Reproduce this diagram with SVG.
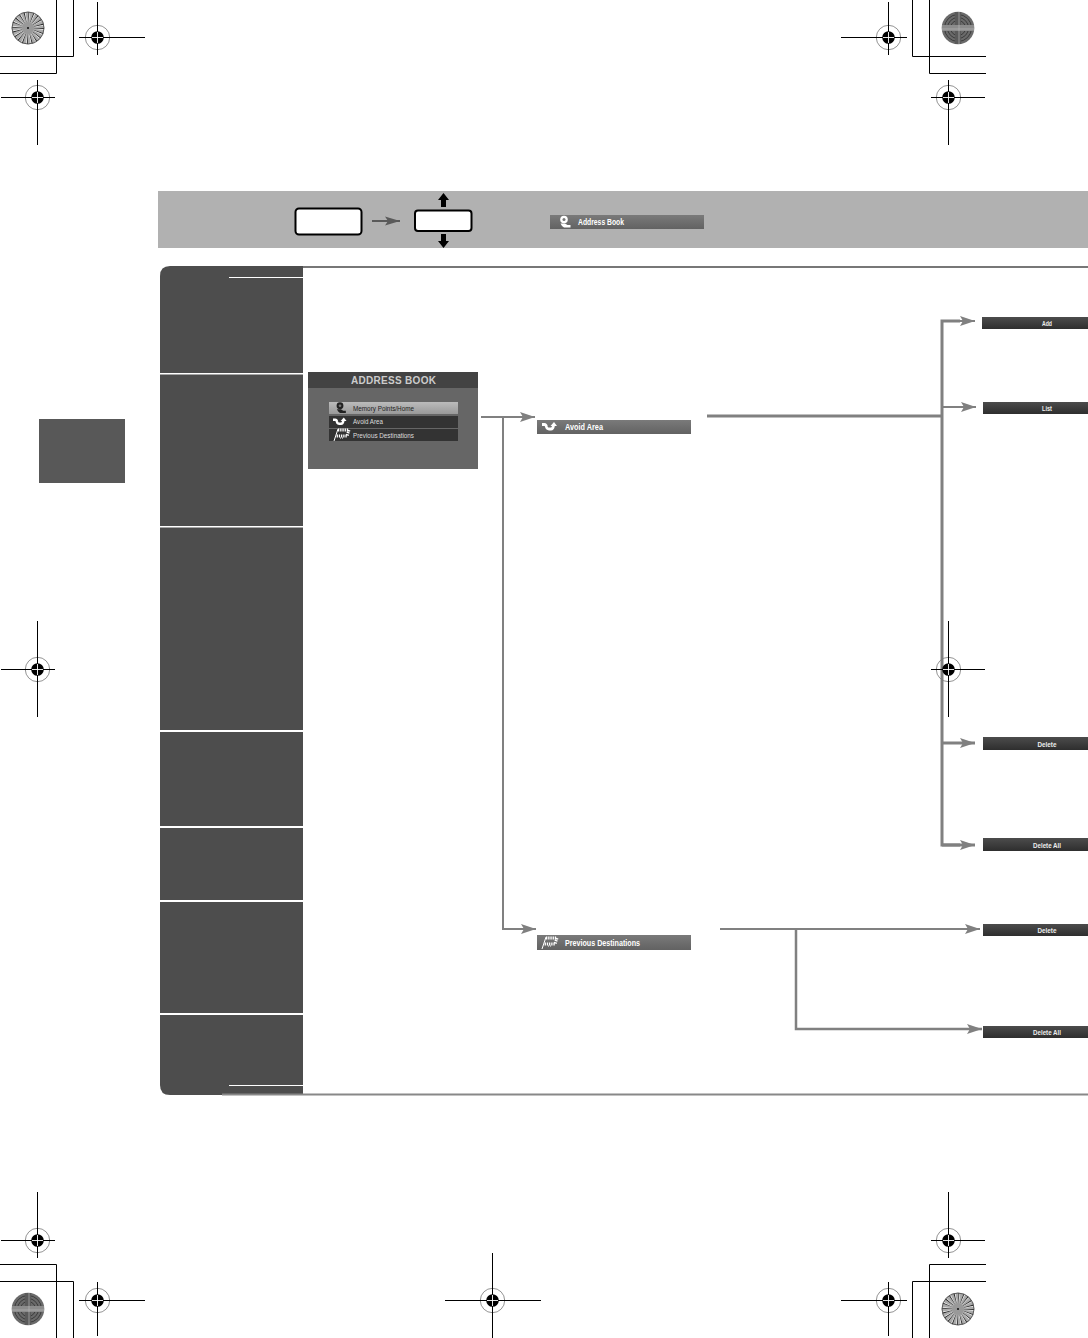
<svg xmlns="http://www.w3.org/2000/svg" width="1088" height="1338" viewBox="0 0 1088 1338">
<style>
text{font-family:"Liberation Sans",Arial,sans-serif}
.k{stroke:#000;stroke-width:1;fill:none}
.c{stroke:#808080;fill:none}
.bar{fill:url(#barDark)}
.gbar{fill:url(#barGrey)}
.bt{fill:#eee;font-size:7.5px;font-weight:bold;text-anchor:middle}
.gt{fill:#fff;font-size:8.5px;font-weight:bold}
.st{font-size:7px}
.div{fill:#fff}
</style>
<defs>
<linearGradient id="barDark" x1="0" y1="0" x2="0" y2="1"><stop offset="0" stop-color="#4c4c4c"/><stop offset="1" stop-color="#2e2e2e"/></linearGradient>
<linearGradient id="barGrey" x1="0" y1="0" x2="0" y2="1"><stop offset="0" stop-color="#7a7a7a"/><stop offset="1" stop-color="#626262"/></linearGradient>
<linearGradient id="barLight" x1="0" y1="0" x2="0" y2="1"><stop offset="0" stop-color="#bbb"/><stop offset="1" stop-color="#999"/></linearGradient>
<marker id="ah" markerUnits="userSpaceOnUse" markerWidth="18" markerHeight="14" refX="15" refY="7" orient="auto"><path d="M0 2L15 7L0 12L3 7Z" fill="#808080"/></marker>
<marker id="ahd" markerUnits="userSpaceOnUse" markerWidth="18" markerHeight="14" refX="15" refY="7" orient="auto"><path d="M0 2.500L15 7L0 11.500L3 7Z" fill="#5a5a5a"/></marker>
<g id="reg">
<circle r="12.200" fill="none" stroke="#777" stroke-width="0.800"/>
<circle r="6.300" fill="#000"/>
<path d="M-6.500 0H6.500M0 -6.500V6.500" stroke="#fff" stroke-width="0.800"/>
</g>
<g id="burst">
<circle r="16.300" fill="#aaa"/>
<circle r="11" fill="none" stroke="#fff" stroke-width="10" stroke-dasharray="1.300 2.150"/>
<circle r="11" fill="none" stroke="#2c2c2c" stroke-width="10" stroke-dasharray="0.800 2.650"/>
<circle r="16" fill="none" stroke="#444" stroke-width="0.800"/>
<circle r="6" fill="#999"/>
<circle r="1" fill="#111"/>
</g>
<g id="cross">
<circle r="16.300" fill="#6a6a6a"/>
<circle r="13.500" fill="none" stroke="#3c3c3c" stroke-width="1"/>
<circle r="10.500" fill="none" stroke="#3c3c3c" stroke-width="1"/>
<circle r="7.500" fill="none" stroke="#3c3c3c" stroke-width="1"/>
<path d="M0 -16V16" stroke="#5a5a5a" stroke-width="6"/>
<path d="M-16 0H16" stroke="#8c8c8c" stroke-width="6"/>
<path d="M-16 1H16M1 -16V16" stroke="#b5b5b5" stroke-width="0.700"/>
</g>
<g id="pin"><circle cx="0" cy="-2.500" r="3.800"/><circle cx="0" cy="-2.500" r="1.500" fill="#777"/><path d="M-3.500 1.500H1L3.500 3H6.500V5.500H0L-2 4Z"/></g>
<g id="uturn"><path d="M0 -2.500H2.500Q4 -2.500 4.500 0Q5 2 7 2H9Q11 2 11.500 -1.500" fill="none" stroke="#fff" stroke-width="2.800"/><path d="M8.500 -1L12 -5L15 -1Z" fill="#fff"/></g>
<g id="flag" fill="none" stroke="#fff"><path d="M4 -5H15L13 1H2" stroke-width="3" stroke-dasharray="1.300 0.900"/><path d="M4 -6L0 6" stroke-width="1"/><path d="M6 3H10" stroke-width="1.200" stroke-dasharray="1 1"/></g>
</defs>

<rect width="1088" height="1338" fill="#fff"/>

<g id="band"><rect x="158" y="191" width="930" height="57" fill="#b1b1b1"/></g>

<g id="sidetab"><rect x="39" y="419" width="86" height="64" fill="#585858"/></g>

<g id="panel">
<path d="M303 266H170Q160 266 160 276V1085Q160 1095 170 1095H303Z" fill="#4d4d4d"/>
<path d="M303 267H1088" stroke="#777" stroke-width="2"/>
<path d="M222 1094.500H1088" stroke="#888" stroke-width="2"/>
<rect class="div" x="229" y="277" width="74" height="1"/>
<rect class="div" x="160" y="373" width="143" height="1.500"/>
<rect class="div" x="160" y="526" width="143" height="1.500"/>
<rect class="div" x="160" y="730" width="143" height="2"/>
<rect class="div" x="160" y="826" width="143" height="2"/>
<rect class="div" x="160" y="900" width="143" height="2"/>
<rect class="div" x="160" y="1013" width="143" height="2"/>
<rect class="div" x="229" y="1085" width="74" height="1"/>
</g>

<g id="connectors" class="c">
<path d="M372 221H400" stroke="#5a5a5a" stroke-width="2" marker-end="url(#ahd)"/>
<path d="M481 417H535" stroke-width="2" marker-end="url(#ah)"/>
<path d="M503 417V929H536" stroke-width="2" marker-end="url(#ah)"/>
<path d="M707 416H942" stroke-width="3"/>
<path d="M960 321H942V845H960" stroke-width="3"/>
<path d="M942 321H975" stroke-width="2" marker-end="url(#ah)"/>
<path d="M942 407H976" stroke-width="2" marker-end="url(#ah)"/>
<path d="M942 743H975" stroke-width="3" marker-end="url(#ah)"/>
<path d="M942 845H975" stroke-width="3" marker-end="url(#ah)"/>
<path d="M720 929H980" stroke-width="2" marker-end="url(#ah)"/>
<path d="M796 929V1029H982" stroke-width="2.500" marker-end="url(#ah)"/>
</g>

<g id="key-menu"><rect x="295.500" y="208.500" width="66" height="26" rx="3.500" fill="#fff" stroke="#000" stroke-width="2"/></g>
<g id="key-joystick">
<rect x="415" y="210.500" width="56.500" height="20.500" rx="3" fill="#fff" stroke="#000" stroke-width="2"/>
<path d="M443.500 193L449 200H446V207H441V200H438Z" fill="#000"/>
<path d="M443.500 248L449 241H446V234H441V241H438Z" fill="#000"/>
</g>
<g id="bar-address">
<rect class="gbar" x="550" y="215" width="154" height="14"/>
<use href="#pin" x="564" y="222" fill="#fff"/>
<text class="gt" x="578" y="225" textLength="46" lengthAdjust="spacingAndGlyphs">Address Book</text>
</g>

<g id="screen">
<rect x="308" y="372" width="170" height="97" fill="#666"/>
<rect x="308" y="372" width="170" height="16" fill="#434343"/>
<text x="351" y="384" font-size="10" font-weight="bold" fill="#ccc" textLength="85" lengthAdjust="spacing">ADDRESS BOOK</text>
<rect x="329" y="402" width="129" height="12" fill="url(#barLight)"/>
<rect x="329" y="416" width="129" height="12" fill="#333"/>
<rect x="329" y="429" width="129" height="12" fill="#333"/>
<use href="#pin" transform="translate(340,408) scale(.9)" fill="#222"/>
<use href="#uturn" transform="translate(333,422) scale(.9)"/>
<use href="#flag" x="334" y="435"/>
<text class="st" x="353" y="411" fill="#222" textLength="61" lengthAdjust="spacingAndGlyphs">Memory Points/Home</text>
<text class="st" x="353" y="424" fill="#ddd" textLength="30" lengthAdjust="spacingAndGlyphs">Avoid Area</text>
<text class="st" x="353" y="437.500" fill="#ddd" textLength="61" lengthAdjust="spacingAndGlyphs">Previous Destinations</text>
</g>

<g id="bar-avoid">
<rect class="gbar" x="537" y="420" width="154" height="14"/>
<use href="#uturn" x="542" y="427"/>
<text class="gt" x="565" y="430" textLength="38" lengthAdjust="spacingAndGlyphs">Avoid Area</text>
</g>
<g id="bar-previous">
<rect class="gbar" x="537" y="935" width="154" height="15"/>
<use href="#flag" x="542" y="943"/>
<text class="gt" x="565" y="946" textLength="75" lengthAdjust="spacingAndGlyphs">Previous Destinations</text>
</g>

<g id="bar-add"><rect class="bar" x="982" y="317" width="106" height="12"/><text class="bt" x="1047" y="326" textLength="10" lengthAdjust="spacingAndGlyphs">Add</text></g>
<g id="bar-list"><rect class="bar" x="983" y="402" width="105" height="12"/><text class="bt" x="1047" y="411" textLength="10" lengthAdjust="spacingAndGlyphs">List</text></g>
<g id="bar-delete-1"><rect class="bar" x="983" y="737" width="105" height="13"/><text class="bt" x="1047" y="747" textLength="19" lengthAdjust="spacingAndGlyphs">Delete</text></g>
<g id="bar-delete-all-1"><rect class="bar" x="983" y="838" width="105" height="13"/><text class="bt" x="1047" y="847.500" textLength="28" lengthAdjust="spacingAndGlyphs">Delete All</text></g>
<g id="bar-delete-2"><rect class="bar" x="983" y="924" width="105" height="12"/><text class="bt" x="1047" y="933" textLength="19" lengthAdjust="spacingAndGlyphs">Delete</text></g>
<g id="bar-delete-all-2"><rect class="bar" x="983" y="1026" width="105" height="12"/><text class="bt" x="1047" y="1035" textLength="28" lengthAdjust="spacingAndGlyphs">Delete All</text></g>

<g id="print-marks">
<path class="k" d="M73.500 0V56.500H0M56.500 0V73.500H0"/>
<path class="k" d="M912.500 0V56.500H986M929.500 0V73.500H986"/>
<path class="k" d="M0 1264.500H56.500V1338M0 1281.500H73.500V1338"/>
<path class="k" d="M986 1264.500H929.500V1338M986 1281.500H912.500V1338"/>
<use href="#burst" x="28" y="28"/>
<use href="#cross" x="958" y="28"/>
<use href="#cross" x="28" y="1309"/>
<use href="#burst" x="958" y="1309"/>
<use href="#reg" x="97.500" y="37.500"/><path class="k" d="M79 37.500H145M97.500 2V55"/>
<use href="#reg" x="37.500" y="97.500"/><path class="k" d="M1 97.500H55M37.500 80V145"/>
<use href="#reg" x="888.500" y="37.500"/><path class="k" d="M841 37.500H907M888.500 2V55"/>
<use href="#reg" x="948.500" y="97.500"/><path class="k" d="M931 97.500H985M948.500 80V145"/>
<use href="#reg" x="37.500" y="669.500"/><path class="k" d="M1 669.500H55M37.500 621V717"/>
<use href="#reg" x="948.500" y="669.500"/><path class="k" d="M931 669.500H985M948.500 621V717"/>
<use href="#reg" x="37.500" y="1240.500"/><path class="k" d="M1 1240.500H55M37.500 1192V1258"/>
<use href="#reg" x="948.500" y="1240.500"/><path class="k" d="M931 1240.500H985M948.500 1192V1258"/>
<use href="#reg" x="97.500" y="1300.500"/><path class="k" d="M79 1300.500H145M97.500 1282V1336"/>
<use href="#reg" x="888.500" y="1300.500"/><path class="k" d="M841 1300.500H907M888.500 1282V1336"/>
<use href="#reg" x="492.500" y="1300.500"/><path class="k" d="M445 1300.500H541M492.500 1253V1338"/>
</g>
<g id="reg-cross-white" stroke="#fff" stroke-width="0.900" fill="none">
<path d="M92 37.500H103M97.500 32V43M32 97.500H43M37.500 92V103M883 37.500H894M888.500 32V43M943 97.500H954M948.500 92V103M32 669.500H43M37.500 664V675M943 669.500H954M948.500 664V675M32 1240.500H43M37.500 1235V1246M943 1240.500H954M948.500 1235V1246M92 1300.500H103M97.500 1295V1306M883 1300.500H894M888.500 1295V1306M487 1300.500H498M492.500 1295V1306"/>
</g>
</svg>
